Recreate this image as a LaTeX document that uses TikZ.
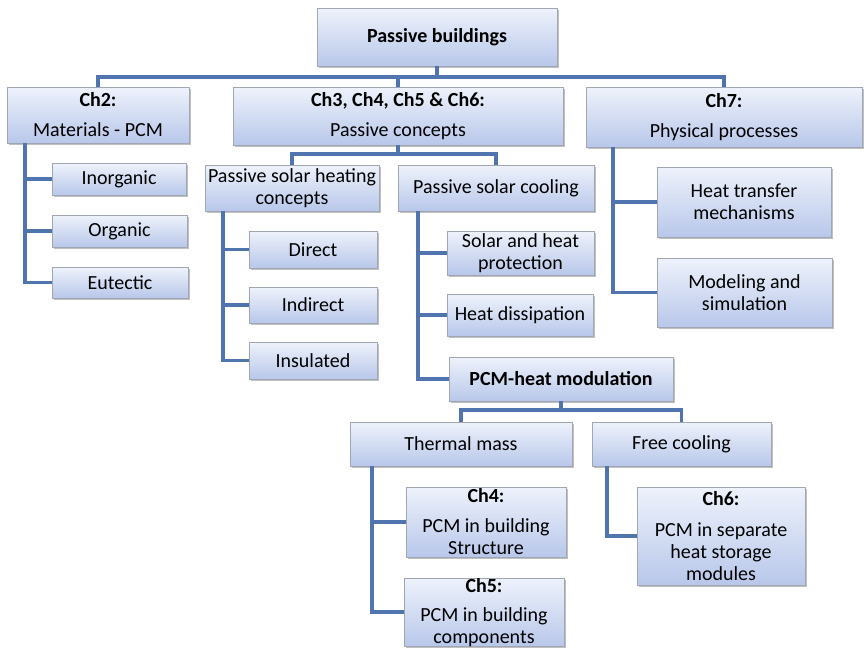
\documentclass[tikz,border=0pt]{standalone}
\usepackage{fontspec}
\setmainfont{Carlito}
\usetikzlibrary{shadows}
\definecolor{boxtop}{RGB}{238,242,251}
\definecolor{boxbot}{RGB}{184,199,234}
\definecolor{boxline}{RGB}{160,166,178}
\definecolor{connc}{RGB}{79,116,174}
\tikzset{
  bx/.style={rectangle, draw=boxline, line width=0.8pt, top color=boxtop, bottom color=boxbot,
    inner sep=0pt, outer sep=0pt, align=center, anchor=north west,
    font=\fontsize{20}{22}\selectfont,
    drop shadow={shadow xshift=1.5pt, shadow yshift=-1.8pt, opacity=0.35, fill=black!70}},
  conn/.style={draw=connc, line width=3.6pt}
}
\newcommand\mkbox[6]{\node[bx, minimum width={(#4-#2)*1pt}, minimum height={(#5-#3)*1pt}] (#1) at (#2,#3) {#6};}
\begin{document}
\begin{tikzpicture}[x=1pt,y=-1pt]
\fill[white] (0,0) rectangle (864,648);
\useasboundingbox (0,0) rectangle (864,648);
% boxes
\mkbox{pb}{317}{8}{557}{66}{\bfseries Passive buildings}
\mkbox{ch2}{7}{87}{189}{143}{{\bfseries Ch2:}\\[8pt]Materials - PCM}
\mkbox{ch3}{233}{87}{563}{145}{{\bfseries Ch3, Ch4, Ch5 \& Ch6:}\\[8pt]Passive concepts}
\mkbox{ch7}{586}{87}{862}{147}{{\bfseries Ch7:}\\[8pt]Physical processes}
\mkbox{inorg}{52}{163}{186}{195}{Inorganic}
\mkbox{org}{52}{215}{187}{247}{Organic}
\mkbox{eut}{52}{267}{188}{298}{Eutectic}
\mkbox{heat}{205}{165}{379}{211}{Passive solar heating\\concepts}
\mkbox{cool}{398}{165}{594}{211}{Passive solar cooling}
\mkbox{direct}{249}{231}{377}{268}{Direct}
\mkbox{indirect}{249}{287}{377}{323}{Indirect}
\mkbox{insul}{249}{342}{377}{379}{Insulated}
\mkbox{solar}{447}{231}{594}{275}{Solar and heat\\protection}
\mkbox{diss}{447}{294}{593}{336}{Heat dissipation}
\mkbox{pcm}{449}{357}{673}{401}{\bfseries PCM-heat modulation}
\mkbox{thermal}{350}{422}{572}{466}{Thermal mass}
\mkbox{free}{592}{422}{771}{466}{Free cooling}
\mkbox{ch4}{406}{487}{566}{557}{{\bfseries Ch4:}\\[8pt]PCM in building\\Structure}
\mkbox{ch5}{404}{578}{564}{645}{{\bfseries Ch5:}\\[7pt]PCM in building\\components}
\mkbox{ch6}{637}{487}{805}{585}{{\bfseries Ch6:}\\[9pt]PCM in separate\\heat storage\\modules}
\mkbox{htm}{657}{167}{831}{237}{Heat transfer\\mechanisms}
\mkbox{mod}{657}{258}{832}{327}{Modeling and\\simulation}
% connectors
\coordinate (b1) at ([yshift=-11pt]pb.south);
\draw[conn] (pb.south) -- (b1);
\draw[conn] (ch2.north) |- (ch7.north |- b1) -- (ch7.north);
\draw[conn] (ch3.north) -- (ch3.north |- b1);
\draw[conn] ([xshift=18pt]ch2.south west) |- (eut.west);
\draw[conn] ([xshift=18pt]ch2.south west) |- (inorg.west);
\draw[conn] ([xshift=18pt]ch2.south west) |- (org.west);
\coordinate (b3) at ([yshift=-9pt]ch3.south);
\draw[conn] (ch3.south) -- (b3);
\draw[conn] (heat.north) |- (b3) -| (cool.north);
\draw[conn] ([xshift=18pt]heat.south west) |- (insul.west);
\draw[conn] ([xshift=18pt]heat.south west) |- (direct.west);
\draw[conn] ([xshift=18pt]heat.south west) |- (indirect.west);
\draw[conn] ([xshift=20pt]cool.south west) |- (pcm.west);
\draw[conn] ([xshift=20pt]cool.south west) |- (solar.west);
\draw[conn] ([xshift=20pt]cool.south west) |- (diss.west);
\coordinate (b4) at ([yshift=-9pt]pcm.south);
\draw[conn] (pcm.south) -- (b4);
\draw[conn] (thermal.north) |- (b4) -| (free.north);
\draw[conn] ([xshift=22pt]thermal.south west) |- (ch5.west);
\draw[conn] ([xshift=22pt]thermal.south west) |- (ch4.west);
\draw[conn] ([xshift=15pt]free.south west) |- (ch6.west);
\draw[conn] ([xshift=27pt]ch7.south west) |- (mod.west);
\draw[conn] ([xshift=27pt]ch7.south west) |- (htm.west);
\end{tikzpicture}
\end{document}
